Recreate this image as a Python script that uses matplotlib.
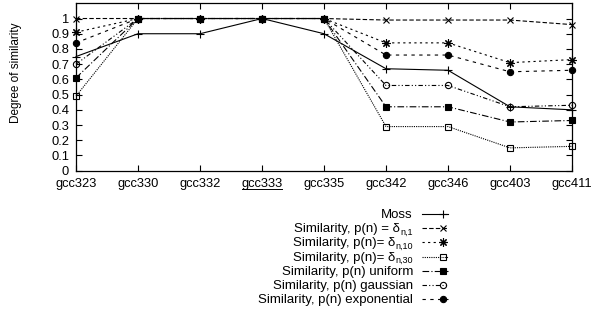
import matplotlib
matplotlib.use("Agg")
import matplotlib.pyplot as plt
from matplotlib.lines import Line2D

plt.rcParams['font.family'] = ['Liberation Sans', 'DejaVu Sans']

versions = ["gcc323", "gcc330", "gcc332", "gcc333", "gcc335", "gcc342", "gcc346", "gcc403", "gcc411"]
y_ticks = [0, 0.1, 0.2, 0.3, 0.4, 0.5, 0.6, 0.7, 0.8, 0.9, 1]
y_tick_labels = ["0", "0.1", "0.2", "0.3", "0.4", "0.5", "0.6", "0.7", "0.8", "0.9", "1"]

moss        = [0.75, 0.90, 0.90, 1.00, 0.90, 0.67, 0.66, 0.42, 0.40]
delta_1     = [1.00, 1.00, 1.00, 1.00, 1.00, 0.99, 0.99, 0.99, 0.96]
delta_10    = [0.91, 1.00, 1.00, 1.00, 1.00, 0.84, 0.84, 0.71, 0.73]
delta_30    = [0.49, 1.00, 1.00, 1.00, 1.00, 0.29, 0.29, 0.15, 0.16]
uniform     = [0.61, 1.00, 1.00, 1.00, 1.00, 0.42, 0.42, 0.32, 0.33]
gaussian    = [0.70, 1.00, 1.00, 1.00, 1.00, 0.56, 0.56, 0.42, 0.43]
exponential = [0.84, 1.00, 1.00, 1.00, 1.00, 0.76, 0.76, 0.65, 0.66]

# legend labels: (main text, subscript)
labels = [
    ("Moss", ""),
    ("Similarity, p(n) = \u03b4", "n,1"),
    ("Similarity, p(n)= \u03b4", "n,10"),
    ("Similarity, p(n)= \u03b4", "n,30"),
    ("Similarity, p(n) uniform", ""),
    ("Similarity, p(n) gaussian", ""),
    ("Similarity, p(n) exponential", ""),
]
series = [moss, delta_1, delta_10, delta_30, uniform, gaussian, exponential]
styles = [
    dict(ls='-', marker='+', ms=6, mfc='black'),
    dict(ls=(0, (4, 2)), marker='x', ms=4.5, mfc='black'),
    dict(ls=(0, (2, 3)), marker=(8, 2, 0), ms=6, mfc='black'),
    dict(ls=(0, (1, 1)), marker='s', ms=4.5, mfc='none'),
    dict(ls=(0, (6, 2, 1, 2)), marker='s', ms=5, mfc='black'),
    dict(ls=(0, (4, 2, 1, 2, 1, 2)), marker='o', ms=4.5, mfc='none'),
    dict(ls=(0, (3, 4)), marker='o', ms=4.5, mfc='black'),
]

W, H = 592, 322
fig = plt.figure(figsize=(W / 100, H / 100), dpi=100)
ax = fig.add_axes([76 / W, 1 - 170.7 / H, (572 - 76) / W, (170.7 - 3.3) / H])

x = list(range(len(versions)))
for vals, (m, s), st in zip(series, labels, styles):
    ax.plot(x, vals, color='black', lw=0.8, mec='black', mew=0.8,
            clip_on=False, label=m + s, **st)

ax.set_xlim(0, len(versions) - 1)
ax.set_ylim(0, 1.1)
ax.set_xticks(x)
ax.set_xticklabels(versions, fontsize=9.3)
ax.set_yticks(y_ticks)
ax.set_yticklabels(y_tick_labels, fontsize=9.3)
ax.tick_params(direction='in', length=4, width=0.8, top=True, right=True)
ax.tick_params(axis='x', pad=5)
ax.tick_params(axis='y', pad=5)
for sp in ax.spines.values():
    sp.set_linewidth(0.9)
ax.set_ylabel("Degree of similarity", fontsize=8.5)
ax.yaxis.set_label_coords(-0.109, 0.587)

# key below the plot: right-aligned text, sample line + point on the right
renderer = fig.canvas.get_renderer()
text_right = 413
line_x0, line_x1, mark_x = 422, 448, 443
base0, step = 218, 14.17
for i, ((main, sub), st) in enumerate(zip(labels, styles)):
    yb = base0 + i * step
    right = text_right
    if sub:
        t = fig.text(text_right / W, 1 - (yb + 2.5) / H, sub, ha='right', va='baseline',
                     fontsize=6.5)
        right = text_right - t.get_window_extent(renderer).width - 0.5
    fig.text(right / W, 1 - yb / H, main, ha='right', va='baseline', fontsize=9.5)
    ym = 1 - (yb - 4) / H
    fig.add_artist(Line2D([line_x0 / W, line_x1 / W], [ym, ym], transform=fig.transFigure,
                          color='black', lw=0.8, ls=st['ls']))
    fig.add_artist(Line2D([mark_x / W], [ym], transform=fig.transFigure, color='black',
                          ls='none', marker=st['marker'], ms=st['ms'], mfc=st['mfc'],
                          mec='black', mew=0.8))

# underline gcc333
fig.canvas.draw()
lbl = ax.get_xticklabels()[3]
bb = lbl.get_window_extent()
inv = fig.transFigure.inverted()
(x0, y0) = inv.transform((bb.x0 + 1, bb.y0 + 0.5))
(x1, _) = inv.transform((bb.x1 - 1, bb.y0 + 0.5))
fig.add_artist(Line2D([x0, x1], [y0, y0], transform=fig.transFigure, color='black', lw=0.7))

fig.savefig("out.png", dpi=100)
